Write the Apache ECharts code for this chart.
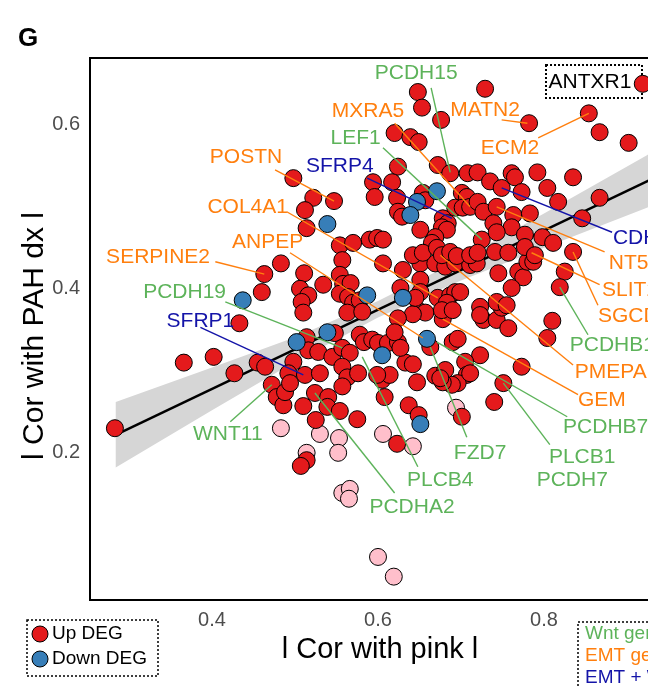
<!DOCTYPE html>
<html><head><meta charset="utf-8">
<script src="https://cdn.jsdelivr.net/npm/echarts@6/dist/echarts.min.js"></script>
<style>html,body{margin:0;padding:0;background:#fff}#c{width:648px;height:688px}</style>
</head><body><div id="c"></div>
<script>
// ---------- DATA ----------
const upDEG = [[0.283,0.229],[0.366,0.309],[0.402,0.316],[0.427,0.296],[0.433,0.357],[0.460,0.395],[0.463,0.417],[0.483,0.430],[0.498,0.534],[0.522,0.510],[0.547,0.506],[0.512,0.495],[0.514,0.473],[0.554,0.452],[0.557,0.434],[0.570,0.455],[0.590,0.459],[0.511,0.418],[0.534,0.404],[0.506,0.399],[0.516,0.391],[0.508,0.383],[0.510,0.370],[0.554,0.416],[0.558,0.405],[0.567,0.406],[0.554,0.393],[0.564,0.389],[0.570,0.382],[0.578,0.385],[0.563,0.370],[0.581,0.371],[0.548,0.345],[0.514,0.340],[0.516,0.324],[0.528,0.322],[0.545,0.316],[0.557,0.327],[0.566,0.321],[0.578,0.343],[0.583,0.334],[0.455,0.309],[0.464,0.304],[0.498,0.310],[0.492,0.296],[0.512,0.294],[0.530,0.296],[0.557,0.304],[0.563,0.291],[0.557,0.280],[0.576,0.296],[0.472,0.282],[0.478,0.267],[0.486,0.257],[0.488,0.273],[0.494,0.284],[0.510,0.256],[0.524,0.272],[0.540,0.267],[0.539,0.255],[0.554,0.250],[0.525,0.239],[0.575,0.240],[0.514,0.190],[0.507,0.183],[0.623,0.210],[0.701,0.243],[0.740,0.261],[0.751,0.284],[0.773,0.304],[0.804,0.339],[0.810,0.360],[0.723,0.318],[0.705,0.310],[0.707,0.294],[0.696,0.284],[0.689,0.282],[0.678,0.285],[0.669,0.293],[0.681,0.300],[0.690,0.334],[0.696,0.338],[0.678,0.362],[0.648,0.373],[0.657,0.370],[0.642,0.368],[0.624,0.363],[0.663,0.328],[0.633,0.309],[0.642,0.307],[0.647,0.285],[0.605,0.288],[0.614,0.294],[0.608,0.267],[0.637,0.257],[0.649,0.245],[0.727,0.361],[0.743,0.361],[0.757,0.351],[0.723,0.377],[0.749,0.376],[0.593,0.337],[0.600,0.333],[0.612,0.333],[0.624,0.334],[0.620,0.346],[0.627,0.327],[0.599,0.294],[0.675,0.290],[0.711,0.296],[0.606,0.430],[0.630,0.422],[0.651,0.430],[0.669,0.430],[0.681,0.426],[0.693,0.430],[0.711,0.428],[0.719,0.430],[0.627,0.400],[0.651,0.410],[0.651,0.395],[0.645,0.388],[0.672,0.388],[0.687,0.391],[0.693,0.395],[0.699,0.395],[0.683,0.382],[0.677,0.373],[0.690,0.373],[0.723,0.367],[0.825,0.420],[0.819,0.401],[0.745,0.418],[0.769,0.420],[0.775,0.413],[0.761,0.400],[0.743,0.383],[0.755,0.379],[0.780,0.432],[0.787,0.432],[0.648,0.639],[0.729,0.643],[0.653,0.620],[0.676,0.605],[0.782,0.601],[0.854,0.613],[0.867,0.590],[0.902,0.577],[0.919,0.649],[0.620,0.589],[0.639,0.584],[0.649,0.578],[0.624,0.548],[0.672,0.550],[0.687,0.540],[0.708,0.540],[0.720,0.541],[0.617,0.529],[0.594,0.529],[0.596,0.511],[0.623,0.510],[0.654,0.516],[0.657,0.507],[0.701,0.516],[0.707,0.511],[0.693,0.498],[0.702,0.498],[0.711,0.499],[0.720,0.505],[0.727,0.493],[0.624,0.493],[0.629,0.487],[0.678,0.485],[0.684,0.479],[0.677,0.474],[0.683,0.471],[0.599,0.461],[0.606,0.459],[0.651,0.471],[0.669,0.462],[0.665,0.455],[0.725,0.459],[0.642,0.440],[0.654,0.443],[0.671,0.449],[0.677,0.440],[0.687,0.444],[0.695,0.439],[0.711,0.440],[0.720,0.443],[0.735,0.530],[0.749,0.522],[0.761,0.540],[0.765,0.535],[0.792,0.541],[0.835,0.535],[0.773,0.517],[0.804,0.522],[0.817,0.505],[0.867,0.510],[0.846,0.485],[0.743,0.499],[0.763,0.489],[0.783,0.491],[0.739,0.479],[0.761,0.474],[0.743,0.468],[0.777,0.465],[0.798,0.462],[0.811,0.455],[0.835,0.444],[0.741,0.444],[0.757,0.443],[0.777,0.450],[0.789,0.440]];
const downDEG = [[0.437,0.385],[0.539,0.478],[0.502,0.334],[0.539,0.346],[0.587,0.391],[0.630,0.388],[0.605,0.318],[0.659,0.338],[0.651,0.234],[0.671,0.518],[0.647,0.505],[0.639,0.489]];
const otherGenes = [[0.483,0.229],[0.530,0.222],[0.553,0.217],[0.552,0.199],[0.514,0.199],[0.557,0.150],[0.566,0.155],[0.565,0.143],[0.606,0.222],[0.642,0.207],[0.694,0.254],[0.600,0.072],[0.619,0.048]];

// regression fit and confidence band
const fitX = [0.284, 0.98];
const fitY = [0.221, 0.557];
const bandX    = [0.284, 0.40, 0.50, 0.60, 0.70, 0.80, 0.924, 0.98];
const bandLow  = [0.181, 0.251, 0.310, 0.364, 0.409, 0.449, 0.498, 0.520];
const bandHigh = [0.261, 0.303, 0.340, 0.384, 0.435, 0.491, 0.562, 0.594];

// labelled genes: name, group (wnt / emt / both), labelled point (x,y)
const labelNames  = ['PCDH15','MXRA5','MATN2','LEF1','ECM2','POSTN','SFRP4','COL4A1','CDH11','NT5E','SLIT2','SGCD','PCDHB16','PMEPA1','GEM','PCDHB7','PLCB1','PCDH7','FZD7','PLCB4','PCDHA2','WNT11','PCDH19','SFRP1','ANPEP','SERPINE2'];
const labelGroups = ['wnt','emt','emt','wnt','emt','emt','both','emt','both','emt','emt','emt','wnt','emt','emt','wnt','wnt','wnt','wnt','wnt','wnt','wnt','wnt','both','emt','emt'];
const labelPtX = [0.687,0.711,0.780,0.725,0.854,0.547,0.689,0.672,0.749,0.743,0.785,0.835,0.819,0.675,0.678,0.671,0.751,null,0.663,0.581,0.524,0.472,0.557,0.510,0.654,0.463];
const labelPtY = [0.541,0.499,0.601,0.459,0.613,0.506,0.485,0.388,0.522,0.499,0.443,0.444,0.401,0.440,0.362,0.334,0.284,null,0.328,0.316,0.272,0.282,0.327,0.294,0.339,0.417];

const xTicks = [0.4, 0.6, 0.8];
const yTicks = [0.2, 0.4, 0.6];

// ---------- LAYOUT (label text positions, leader anchor near text) ----------
const labelLayout = [
  {x:0.646,y:0.662,a:'center',lx:0.664,ly:0.644},
  {x:0.588,y:0.616,a:'center',lx:0.620,ly:0.601},
  {x:0.729,y:0.617,a:'center',lx:0.749,ly:0.605},
  {x:0.573,y:0.583,a:'center',lx:0.606,ly:0.571},
  {x:0.759,y:0.571,a:'center',lx:0.793,ly:0.583},
  {x:0.441,y:0.559,a:'center',lx:0.476,ly:0.544},
  {x:0.554,y:0.548,a:'center',lx:0.587,ly:0.534},
  {x:0.443,y:0.499,a:'center',lx:0.490,ly:0.493},
  {x:0.883,y:0.461,a:'left',lx:0.882,ly:0.468},
  {x:0.878,y:0.430,a:'left',lx:0.873,ly:0.444},
  {x:0.870,y:0.397,a:'left',lx:0.867,ly:0.404},
  {x:0.865,y:0.366,a:'left',lx:0.865,ly:0.379},
  {x:0.831,y:0.330,a:'left',lx:0.853,ly:0.343},
  {x:0.837,y:0.297,a:'left',lx:0.835,ly:0.306},
  {x:0.841,y:0.263,a:'left',lx:0.841,ly:0.270},
  {x:0.823,y:0.230,a:'left',lx:0.828,ly:0.243},
  {x:0.846,y:0.194,a:'center',lx:0.807,ly:0.209},
  {x:0.834,y:0.165,a:'center',lx:null,ly:null},
  {x:0.723,y:0.199,a:'center',lx:0.707,ly:0.218},
  {x:0.675,y:0.166,a:'center',lx:0.648,ly:0.182},
  {x:0.641,y:0.133,a:'center',lx:0.620,ly:0.150},
  {x:0.419,y:0.222,a:'center',lx:0.422,ly:0.237},
  {x:0.367,y:0.395,a:'center',lx:0.416,ly:0.383},
  {x:0.386,y:0.359,a:'center',lx:0.386,ly:0.352},
  {x:0.467,y:0.456,a:'center',lx:0.494,ly:0.443},
  {x:0.335,y:0.438,a:'center',lx:0.404,ly:0.432}
];
const groupColor = {wnt:'#5DB35A', emt:'#FF7F0E', both:'#1414A8'};
const RED = '#E41A1C', BLUE = '#377EB8', PINK = '#FFBFCB';

const chart = echarts.init(document.getElementById('c'), null, {renderer:'canvas'});
const font = 'Liberation Sans, Arial, Helvetica, sans-serif';
const pointStyle = c => ({color:c, borderColor:'#000', borderWidth:1, opacity:1});

const labelData = labelNames.map((n,i)=>[labelLayout[i].x, labelLayout[i].y, i]);

const option = {
  animation:false,
  backgroundColor:'#fff',
  grid:{left:90, top:58, width:620, height:542, outerBoundsMode:'none', containLabel:false,
        show:true, borderColor:'#000', borderWidth:2, backgroundColor:'transparent'},
  xAxis:{type:'value', min:0.253, max:1.0,
    axisLine:{show:false}, axisTick:{show:false}, splitLine:{show:false},
    axisLabel:{customValues:xTicks, formatter:v=>v.toFixed(1), color:'#4D4D4D', fontSize:20, fontFamily:font, margin:10}},
  yAxis:{type:'value', min:0.0195, max:0.6805,
    axisLine:{show:false}, axisTick:{show:false}, splitLine:{show:false},
    axisLabel:{customValues:yTicks, formatter:v=>v.toFixed(1), color:'#4D4D4D', fontSize:20, fontFamily:font, margin:10}},
  series:[
    {type:'custom', z:1, silent:true, clip:true,
      data: bandX.map((x,i)=>[x, bandLow[i], bandHigh[i]]),
      renderItem:function(params, api){
        if (params.dataIndex !== 0) return null;
        const pts = [];
        for (let i=0;i<bandX.length;i++) pts.push(api.coord([bandX[i], bandHigh[i]]));
        for (let i=bandX.length-1;i>=0;i--) pts.push(api.coord([bandX[i], bandLow[i]]));
        return {type:'polygon', shape:{points:pts}, style:{fill:'#D6D6D6'}};
      }},
    {type:'line', z:2, data: fitX.map((x,i)=>[x, fitY[i]]), symbol:'none', lineStyle:{color:'#000', width:2.5}, silent:true},
    {type:'scatter', z:3, data: otherGenes, symbolSize:17, itemStyle:pointStyle(PINK)},
    {type:'scatter', z:4, data: upDEG, symbolSize:17, itemStyle:pointStyle(RED)},
    {type:'scatter', z:5, data: downDEG, symbolSize:17, itemStyle:pointStyle(BLUE)},
    {type:'custom', z:6, silent:true, clip:false, data: labelData,
      renderItem:function(params, api){
        const i = params.dataIndex;
        const L = labelLayout[i];
        const col = groupColor[labelGroups[i]];
        const children = [];
        if (labelPtX[i] !== null && L.lx !== null){
          const a = api.coord([labelPtX[i], labelPtY[i]]);
          const b = api.coord([L.lx, L.ly]);
          children.push({type:'line', shape:{x1:a[0],y1:a[1],x2:b[0],y2:b[1]}, style:{stroke:col, lineWidth:1.4}});
        }
        const t = api.coord([L.x, L.y]);
        children.push({type:'text', style:{text:labelNames[i], x:t[0], y:t[1], fill:col, fontSize:21, fontFamily:font, align:L.a, verticalAlign:'middle'}});
        return {type:'group', children};
      }}
  ],
  graphic:[
    {type:'text', left:18, top:26, style:{text:'G', fontSize:26, fontWeight:'bold', fontFamily:font, fill:'#000'}},
    {type:'text', x:380, y:650, style:{text:'l Cor with pink l', fontSize:29, fontFamily:font, fill:'#000', align:'center', verticalAlign:'middle'}},
    {type:'text', x:35, y:336, rotation:Math.PI/2, style:{text:'l Cor with PAH dx l', fontSize:30, fontFamily:font, fill:'#000', align:'center', verticalAlign:'middle'}},
    {type:'rect', shape:{x:546, y:65, width:96, height:33}, style:{fill:'#fff', stroke:'#000', lineWidth:2, lineDash:[2,2]}, z:-1, zlevel:0},
    {type:'text', x:590, y:82, style:{text:'ANTXR1', fontSize:21, fontFamily:font, fill:'#000', align:'center', verticalAlign:'middle'}},
    {type:'rect', shape:{x:27, y:620, width:131, height:56}, style:{fill:'#fff', stroke:'#000', lineWidth:1.5, lineDash:[2,2]}},
    {type:'circle', shape:{cx:40, cy:634, r:8}, style:{fill:RED, stroke:'#000', lineWidth:1}},
    {type:'text', x:52, y:634, style:{text:'Up DEG', fontSize:19, fontFamily:font, fill:'#000', verticalAlign:'middle'}},
    {type:'circle', shape:{cx:40, cy:659, r:8}, style:{fill:BLUE, stroke:'#000', lineWidth:1}},
    {type:'text', x:52, y:659, style:{text:'Down DEG', fontSize:19, fontFamily:font, fill:'#000', verticalAlign:'middle'}},
    {type:'rect', shape:{x:578, y:622, width:120, height:70}, style:{fill:'#fff', stroke:'#000', lineWidth:1.5, lineDash:[2,2]}},
    {type:'text', x:585, y:634, style:{text:'Wnt genes', fontSize:19, fontFamily:font, fill:groupColor.wnt, verticalAlign:'middle'}},
    {type:'text', x:585, y:656, style:{text:'EMT genes', fontSize:19, fontFamily:font, fill:groupColor.emt, verticalAlign:'middle'}},
    {type:'text', x:585, y:678, style:{text:'EMT + Wnt genes', fontSize:19, fontFamily:font, fill:groupColor.both, verticalAlign:'middle'}}
  ]
};
chart.setOption(option);
</script></body></html>
